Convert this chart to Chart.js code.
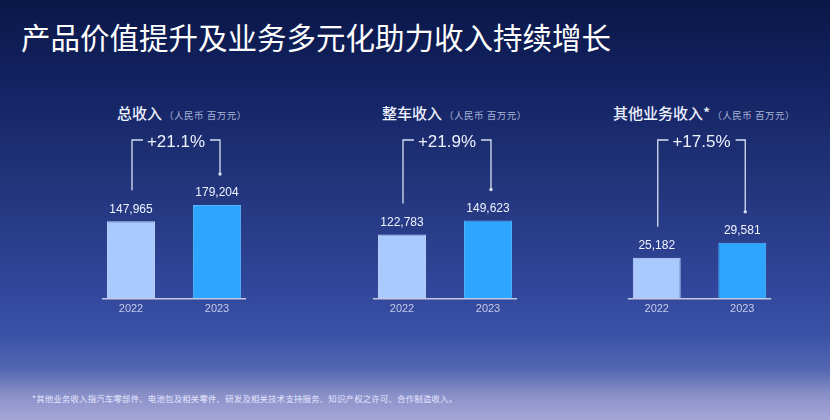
<!DOCTYPE html>
<html>
<head>
<meta charset="utf-8">
<script src="https://cdn.jsdelivr.net/npm/chart.js@4.4.0/dist/chart.umd.min.js"></script>
<style>
  html, body { margin: 0; padding: 0; }
  body {
    width: 830px; height: 420px; position: relative; overflow: hidden;
    font-family: "Noto Sans CJK SC", "Noto Sans", sans-serif;
    background: linear-gradient(180deg, #0a1748 0%, #142464 22%, #23357c 45%, #31469a 68%, #3b52a6 80%, #5467b2 88%, #8a90c8 94%, #a6a6d8 100%);
  }
  .main-title { position: absolute; left: 21px; top: 15px; font-size: 29.5px; color: #ffffff; }
  .panel-title { position: absolute; top: 102px; font-size: 15px; color: #eef1ff; font-weight: 500; white-space: nowrap; }
  .panel-title span { font-size: 9.5px; color: #aab4d8; font-weight: 400; margin-left: 2px; letter-spacing: 0.5px; }
  .note { position: absolute; left: 32px; top: 392px; font-size: 8.4px; color: #e4e7ff; letter-spacing: 0.22px; }
  canvas { position: absolute; }
</style>
</head>
<body>
<div class="main-title">产品价值提升及业务多元化助力收入持续增长</div>

<div class="panel-title" style="left:117px">总收入<span>（人民币 百万元）</span></div>
<div class="panel-title" style="left:382px">整车收入<span>（人民币 百万元）</span></div>
<div class="panel-title" style="left:613px">其他业务收入*<span>（人民币 百万元）</span></div>

<canvas id="c1" width="172" height="195" style="left:88px;top:125px"></canvas>
<canvas id="c2" width="172" height="195" style="left:359px;top:125px"></canvas>
<canvas id="c3" width="171" height="195" style="left:614px;top:125px"></canvas>

<div class="note">*其他业务收入指汽车零部件、电池包及相关零件、研发及相关技术支持服务、知识产权之许可、合作制造收入。</div>

<script>
const years = ['2022', '2023'];
const totalRevenue = [147965, 179204];
const vehicleRevenue = [122783, 149623];
const otherRevenue = [25182, 29581];
const growth = ['+21.1%', '+21.9%', '+17.5%'];

const barColors = ['#a9c9ff', '#2ea6ff'];
const barBorders = ['#c2d9ff', '#52b8ff'];

// baseline, value labels and the growth bracket, all placed from the bar elements
const decor = {
  id: 'decor',
  afterDatasetsDraw(chart, args, opts) {
    const ctx = chart.ctx;
    const bars = chart.getDatasetMeta(0).data;
    const values = chart.data.datasets[0].data;
    const area = chart.chartArea;
    const y = chart.scales.y;
    ctx.save();

    const yBase = y.getPixelForValue(y.min);
    ctx.strokeStyle = '#c3cae2';
    ctx.lineWidth = 1.5;
    ctx.beginPath();
    ctx.moveTo(bars[0].x - bars[0].width / 2 - 5, yBase);
    ctx.lineTo(bars[1].x + bars[1].width / 2 + 5, yBase);
    ctx.stroke();

    ctx.fillStyle = '#eef2ff';
    ctx.textAlign = 'center';
    ctx.textBaseline = 'middle';
    ctx.font = '12px "Liberation Sans", Arial, sans-serif';
    bars.forEach((b, i) => ctx.fillText(values[i].toLocaleString('en-US'), b.x, b.y - 12));

    const xl = bars[0].x + 1;
    const xr = bars[1].x + 3;
    const yt = area.top + 15;
    const cx = (xl + xr) / 2;
    ctx.font = '17px "Liberation Sans", Arial, sans-serif';
    const tw = ctx.measureText(opts.label).width;
    ctx.fillText(opts.label, cx, yt + 2);

    ctx.strokeStyle = '#d9dff2';
    ctx.lineWidth = 1.3;
    ctx.beginPath();
    ctx.moveTo(xl, bars[0].y - 31);
    ctx.lineTo(xl, yt);
    ctx.lineTo(cx - tw / 2 - 4, yt);
    ctx.moveTo(cx + tw / 2 + 5, yt);
    ctx.lineTo(xr, yt);
    ctx.lineTo(xr, bars[1].y - 31);
    ctx.stroke();
    ctx.fillStyle = '#d9dff2';
    ctx.beginPath();
    ctx.arc(xr, bars[1].y - 31, 1.7, 0, Math.PI * 2);
    ctx.fill();
    ctx.restore();
  }
};

function makeChart(id, values, label, min, max) {
  return new Chart(document.getElementById(id), {
    type: 'bar',
    data: {
      labels: years,
      datasets: [{
        data: values,
        backgroundColor: barColors,
        borderColor: barBorders,
        borderWidth: 1,
        categoryPercentage: 1,
        barPercentage: 0.56,
      }],
    },
    options: {
      responsive: false,
      animation: false,
      layout: { padding: 0 },
      plugins: { legend: { display: false }, tooltip: { enabled: false }, decor: { label } },
      scales: {
        x: {
          grid: { display: false, drawTicks: false },
          border: { display: false },
          ticks: { color: '#c4cceb', padding: 4, font: { size: 11, family: '"Liberation Sans", Arial, sans-serif' } },
        },
        y: { display: false, min, max },
      },
    },
    plugins: [decor],
  });
}

makeChart('c1', totalRevenue, growth[0], 0, 332000);
makeChart('c2', vehicleRevenue, growth[1], 0, 332000);
makeChart('c3', otherRevenue, growth[2], 13000, 64500);
</script>
</body>
</html>
